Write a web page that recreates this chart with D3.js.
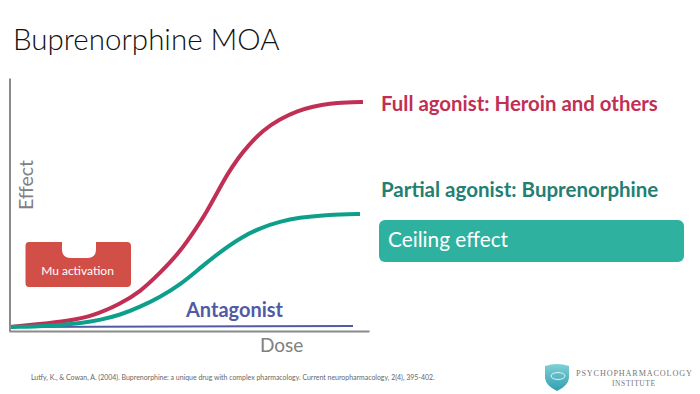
<!DOCTYPE html>
<html><head><meta charset="utf-8">
<script src="https://cdn.jsdelivr.net/npm/d3@7"></script>
<style>html,body{margin:0;padding:0;background:#fff}svg{display:block}text{font-family:Lato,"Open Sans",sans-serif}</style>
</head><body><svg id="c" width="700" height="394"></svg>
<script>
const doseFull=[1,31,58,84,111,131,151,171,188,197,208,219,230,238,254,271,288,304,321,338,354];
const effectFull=[4,7,10,15,27,39,58,79,104,118,138,158,174,184,201,212,220,224.500,227.500,228.500,229];
const dosePartial=[1,41,74,91,111,131,151,171,191,211,231,251,271,291,311,331,351];
const effectPartial=[4,5,8,11,16,24,34,46,63,79,93,103,109.500,113.500,115.500,116.500,117];
const doseAntagonist=[1,344];
const effectAntagonist=[4,5];
const title="Buprenorphine MOA";
const labels={full:"Full agonist: Heroin and others",partial:"Partial agonist: Buprenorphine",ceiling:"Ceiling effect",antagonist:"Antagonist",mu:"Mu activation"};
const citation="Lutfy, K., & Cowan, A. (2004). Buprenorphine: a unique drug with complex pharmacology. Current neuropharmacology, 2(4), 395-402.";

const svg=d3.select("#c");
const x=d3.scaleLinear().domain([0,360]).range([9,369]);
const y=d3.scaleLinear().domain([0,253]).range([331,78]);
const line=d3.line().x(d=>x(d[0])).y(d=>y(d[1])).curve(d3.curveBasis);
const zip=(a,b)=>a.map((v,i)=>[v,b[i]]);

svg.append("text").attr("x",13).attr("y",50).attr("font-size",29.500).attr("font-weight",300).attr("fill","#111").text(title);

svg.append("path").attr("d",line(zip(doseAntagonist,effectAntagonist))).attr("fill","none").attr("stroke","#4f5ba6").attr("stroke-width",2);
svg.append("path").attr("d",line(zip(doseFull,effectFull))).attr("fill","none").attr("stroke","#c12f55").attr("stroke-width",4);
svg.append("path").attr("d",line(zip(dosePartial,effectPartial))).attr("fill","none").attr("stroke","#0d9f8c").attr("stroke-width",4);

svg.append("g").attr("transform","translate(0,331)").call(d3.axisBottom(x).tickValues([]).tickSize(0)).select(".domain").attr("stroke","#8a8a8a").attr("stroke-width",2);
svg.append("g").attr("transform","translate(9.5,0)").call(d3.axisLeft(y).tickValues([]).tickSize(0)).select(".domain").attr("stroke","#8a8a8a").attr("stroke-width",2);

svg.append("text").attr("transform","translate(33,210) rotate(-90)").attr("font-size",19.500).attr("fill","#808080").text("Effect");
svg.append("text").attr("x",260).attr("y",352).attr("font-size",19).attr("fill","#808080").text("Dose");

svg.append("text").attr("x",186).attr("y",317).attr("font-size",20).attr("font-weight",700).attr("fill","#4f5ba6").text(labels.antagonist);
svg.append("text").attr("x",381).attr("y",111).attr("font-size",20.400).attr("font-weight",700).attr("fill","#c12f55").text(labels.full);
svg.append("text").attr("x",381).attr("y",197).attr("font-size",20.500).attr("font-weight",700).attr("fill","#1f8073").text(labels.partial);

svg.append("rect").attr("x",379).attr("y",220).attr("width",305).attr("height",42).attr("rx",6).attr("fill","#2fb1a0");
svg.append("text").attr("x",388).attr("y",247).attr("font-size",20.800).attr("fill","#fff").text(labels.ceiling);

// receptor block
svg.append("path").attr("d","M29,242H62V249Q62,258 71,258H87Q96,258 96,249V242H127Q131,242 131,246V283Q131,287 127,287H29Q25.500,287 25.500,283V246Q25.500,242 29,242Z").attr("fill","#d24f47");
svg.append("text").attr("x",77.500).attr("y",275).attr("text-anchor","middle").attr("font-size",12).attr("fill","#fff").text(labels.mu);

svg.append("text").attr("x",31).attr("y",380).attr("font-size",6.950).attr("fill","#666").text(citation);

// logo
const grad=svg.append("defs").append("linearGradient").attr("id","sh").attr("x1",0).attr("y1",0).attr("x2",0).attr("y2",1);
grad.append("stop").attr("offset",0).attr("stop-color","#7fd0d6");
grad.append("stop").attr("offset",1).attr("stop-color","#2f9fb0");
svg.append("path").attr("d","M545,366Q557,362 569,366V378Q568,386 557,391Q546,386 545,378Z").attr("fill","url(#sh)");
svg.append("ellipse").attr("cx",558).attr("cy",376).attr("rx",7).attr("ry",3.500).attr("fill","none").attr("stroke","#fff").attr("stroke-width",.8);
svg.append("text").attr("x",576).attr("y",376).attr("font-size",8.200).attr("letter-spacing",.85).style("font-family","'Liberation Serif',serif").attr("fill","#777").text("PSYCHOPHARMACOLOGY");
svg.append("text").attr("x",612).attr("y",386).attr("font-size",7.500).attr("letter-spacing",.6).style("font-family","'Liberation Serif',serif").attr("fill","#777").text("INSTITUTE");
</script></body></html>
